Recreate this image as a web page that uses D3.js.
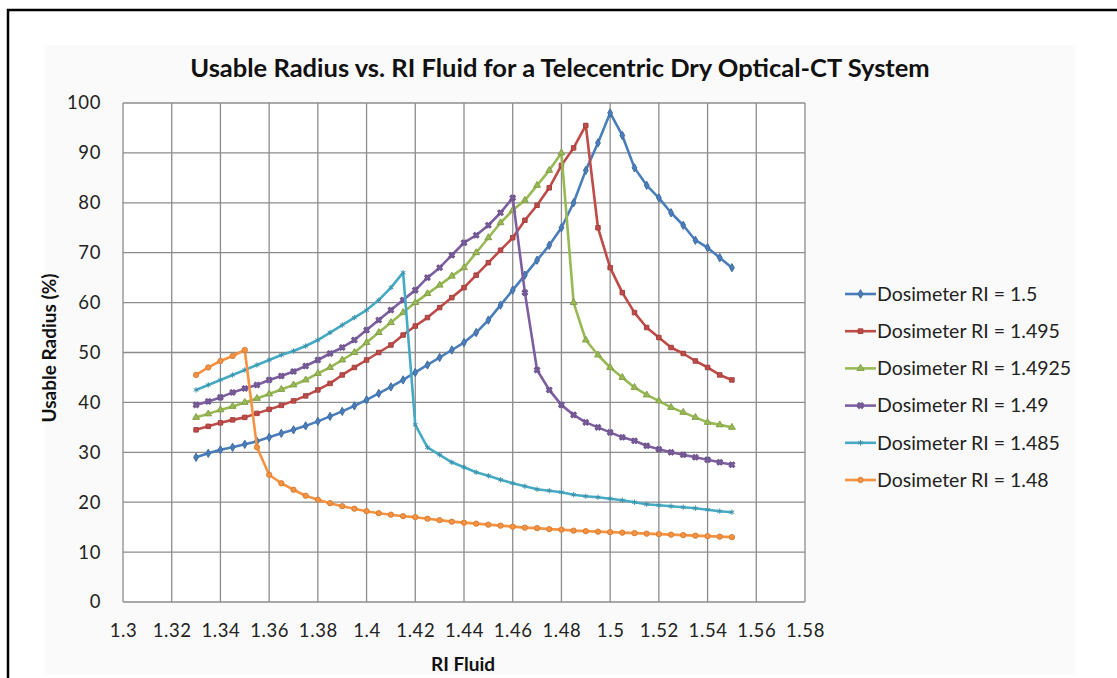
<!DOCTYPE html>
<html>
<head>
<meta charset="utf-8">
<script src="https://cdn.jsdelivr.net/npm/d3@7"></script>
<style>
  body { margin: 0; background: #fff; }
  svg { display: block; font-family: Lato, "Open Sans", sans-serif; }
</style>
</head>
<body>
<div id="chart"></div>
<script>
// RI fluid values (x)
const riFluid = [1.33, 1.335, 1.34, 1.345, 1.35, 1.355, 1.36, 1.365, 1.37, 1.375,
  1.38, 1.385, 1.39, 1.395, 1.40, 1.405, 1.41, 1.415, 1.42, 1.425,
  1.43, 1.435, 1.44, 1.445, 1.45, 1.455, 1.46, 1.465, 1.47, 1.475,
  1.48, 1.485, 1.49, 1.495, 1.50, 1.505, 1.51, 1.515, 1.52, 1.525,
  1.53, 1.535, 1.54, 1.545, 1.55];

// usable radius (%) per dosimeter RI
const ri1500 = [29, 29.8, 30.5, 31, 31.6, 32.2, 33, 33.8, 34.5, 35.3,
  36.2, 37.2, 38.2, 39.3, 40.5, 41.8, 43.1, 44.5, 46, 47.5,
  49, 50.5, 52, 54, 56.5, 59.5, 62.5, 65.5, 68.5, 71.5,
  75, 80, 86.5, 92, 98, 93.5, 87, 83.5, 81, 78,
  75.5, 72.5, 71, 69, 67];
const ri1495 = [34.5, 35.2, 35.9, 36.5, 37, 37.8, 38.6, 39.4, 40.3, 41.3,
  42.5, 43.8, 45.5, 47, 48.5, 50, 51.5, 53.5, 55.3, 57,
  59, 61, 63, 65.5, 68, 70.5, 73, 76.5, 79.5, 83,
  87.5, 91, 95.5, 75, 67, 62, 58, 55, 53, 51,
  49.8, 48.3, 47, 45.5, 44.5];
const ri14925 = [37, 37.7, 38.5, 39.2, 40, 40.8, 41.7, 42.6, 43.5, 44.5,
  45.8, 47, 48.5, 50, 52, 54, 56, 58, 60, 61.8,
  63.5, 65.3, 67, 70, 73, 76, 78.5, 80.5, 83.5, 86.5,
  90, 60, 52.5, 49.5, 47, 45, 43, 41.5, 40.3, 39,
  38, 37, 36, 35.5, 35];
const ri1490 = [39.5, 40.2, 41, 42, 42.8, 43.5, 44.5, 45.3, 46.2, 47.3,
  48.5, 49.8, 51, 52.5, 54.5, 56.5, 58.5, 60.5, 62.5, 65,
  67, 69.5, 72, 73.5, 75.5, 78, 81, 62, 46.5, 42.5,
  39.5, 37.5, 36, 35, 34, 33, 32.3, 31.3, 30.6, 30,
  29.5, 29, 28.5, 28, 27.5];
const ri1485 = [42.5, 43.5, 44.5, 45.5, 46.5, 47.5, 48.5, 49.5, 50.3, 51.3,
  52.5, 54, 55.5, 57, 58.5, 60.5, 63, 66, 35.5, 31,
  29.5, 28, 27, 26, 25.3, 24.5, 23.8, 23.2, 22.6, 22.3,
  22, 21.5, 21.2, 21, 20.7, 20.4, 20, 19.6, 19.4, 19.2,
  19, 18.8, 18.5, 18.2, 18];
const ri1480 = [45.5, 47, 48.3, 49.3, 50.5, 31, 25.5, 23.8, 22.5, 21.3,
  20.5, 19.8, 19.2, 18.7, 18.2, 17.8, 17.5, 17.2, 17, 16.7,
  16.4, 16.1, 15.9, 15.7, 15.5, 15.3, 15.1, 14.9, 14.8, 14.6,
  14.5, 14.3, 14.2, 14.1, 14, 13.9, 13.8, 13.7, 13.6, 13.5,
  13.4, 13.3, 13.2, 13.1, 13];

const seriesNames = ['Dosimeter RI = 1.5', 'Dosimeter RI = 1.495', 'Dosimeter RI = 1.4925',
  'Dosimeter RI = 1.49', 'Dosimeter RI = 1.485', 'Dosimeter RI = 1.48'];
const seriesValues = [ri1500, ri1495, ri14925, ri1490, ri1485, ri1480];

const xTicks = [1.3, 1.32, 1.34, 1.36, 1.38, 1.4, 1.42, 1.44, 1.46, 1.48, 1.5, 1.52, 1.54, 1.56, 1.58];
const yTicks = [0, 10, 20, 30, 40, 50, 60, 70, 80, 90, 100];

// styling
const colors = ['#4a7ebb', '#be4b48', '#98b954', '#7d5fa0', '#46aac5', '#f69240'];
const shapes = [d3.symbolDiamond, d3.symbolSquare, d3.symbolTriangle, d3.symbolCross, d3.symbolAsterisk, d3.symbolCircle];

const width = 1117, height = 678;
const plot = {left: 123, right: 805, top: 103, bottom: 602};

const svg = d3.select('#chart').append('svg')
  .attr('width', width).attr('height', height);

// faint chart area + frame
svg.append('rect').attr('x', 45).attr('y', 45).attr('width', 1030).attr('height', 630)
  .attr('fill', '#fafafa');
svg.append('line').attr('x1', 7).attr('x2', width).attr('y1', 10).attr('y2', 10)
  .attr('stroke', '#000').attr('stroke-width', 2.5);
svg.append('line').attr('x1', 8).attr('x2', 8).attr('y1', 9).attr('y2', height)
  .attr('stroke', '#000').attr('stroke-width', 2.5);

const x = d3.scaleLinear().domain([1.3, 1.58]).range([plot.left, plot.right]);
const y = d3.scaleLinear().domain([0, 100]).range([plot.bottom, plot.top]);

svg.append('rect').attr('x', plot.left).attr('y', plot.top)
  .attr('width', plot.right - plot.left).attr('height', plot.bottom - plot.top)
  .attr('fill', '#fff');

// grid
const grid = svg.append('g').attr('stroke', '#8c8c8c').attr('stroke-width', 1.3);
grid.selectAll('line.v').data(xTicks).join('line').attr('class', 'v')
  .attr('x1', d => x(d)).attr('x2', d => x(d)).attr('y1', plot.top).attr('y2', plot.bottom);
grid.selectAll('line.h').data(yTicks).join('line').attr('class', 'h')
  .attr('y1', d => y(d)).attr('y2', d => y(d)).attr('x1', plot.left).attr('x2', plot.right);

// axes labels
const xAxis = svg.append('g').attr('transform', `translate(0,${plot.bottom + 19})`)
  .call(d3.axisBottom(x).tickValues(xTicks).tickSize(0).tickFormat(d => d3.format('')(+d.toFixed(2))));
const yAxis = svg.append('g').attr('transform', `translate(${plot.left - 19},0)`)
  .call(d3.axisLeft(y).tickValues(yTicks).tickSize(0));
[xAxis, yAxis].forEach(a => {
  a.select('.domain').remove();
  a.selectAll('text').attr('font-size', 18.5).attr('letter-spacing', 0.6).attr('fill', '#222')
    .attr('font-family', 'Lato, "Open Sans", sans-serif');
});

// lines and markers
const line = d3.line().x((d, i) => x(riFluid[i])).y(d => y(d));
seriesValues.forEach((vals, s) => {
  const g = svg.append('g');
  g.append('path').datum(vals).attr('d', line)
    .attr('fill', 'none').attr('stroke', colors[s]).attr('stroke-width', 2.6)
    .attr('stroke-linejoin', 'round');
  const sym = d3.symbol().type(shapes[s]).size(s === 5 ? 22 : 20);
  g.selectAll('path.m').data(vals).join('path').attr('class', 'm')
    .attr('d', sym)
    .attr('transform', (d, i) => `translate(${x(riFluid[i])},${y(d)})` + (s === 3 ? ' rotate(45)' : ''))
    .attr('fill', colors[s])
    .attr('stroke', d3.color(colors[s]).darker(0.4))
    .attr('stroke-width', 1);
});

// titles
svg.append('text').attr('x', 560).attr('y', 77).attr('text-anchor', 'middle')
  .attr('font-size', 25.5).attr('font-weight', 'bold').attr('fill', '#111')
  .text('Usable Radius vs. RI Fluid for a Telecentric Dry Optical-CT System');
svg.append('text').attr('x', 463).attr('y', 671).attr('text-anchor', 'middle')
  .attr('font-size', 19).attr('font-weight', 'bold').attr('fill', '#111')
  .text('RI Fluid');
svg.append('text').attr('transform', 'translate(56,348) rotate(-90)').attr('text-anchor', 'middle')
  .attr('font-size', 19).attr('font-weight', 'bold').attr('fill', '#111')
  .text('Usable Radius (%)');

// legend
const legend = svg.append('g').attr('transform', 'translate(845,294)');
seriesNames.forEach((name, s) => {
  const gy = s * 37.2;
  legend.append('line').attr('x1', 0).attr('x2', 31).attr('y1', gy).attr('y2', gy)
    .attr('stroke', colors[s]).attr('stroke-width', 2.6);
  legend.append('path').attr('d', d3.symbol().type(shapes[s]).size(22))
    .attr('transform', `translate(15.5,${gy})` + (s === 3 ? ' rotate(45)' : ''))
    .attr('fill', colors[s]).attr('stroke', d3.color(colors[s]).darker(0.4));
  legend.append('text').attr('x', 32).attr('y', gy).attr('dy', '0.35em')
    .attr('font-size', 19.5).attr('fill', '#222').text(name);
});
</script>
</body>
</html>
